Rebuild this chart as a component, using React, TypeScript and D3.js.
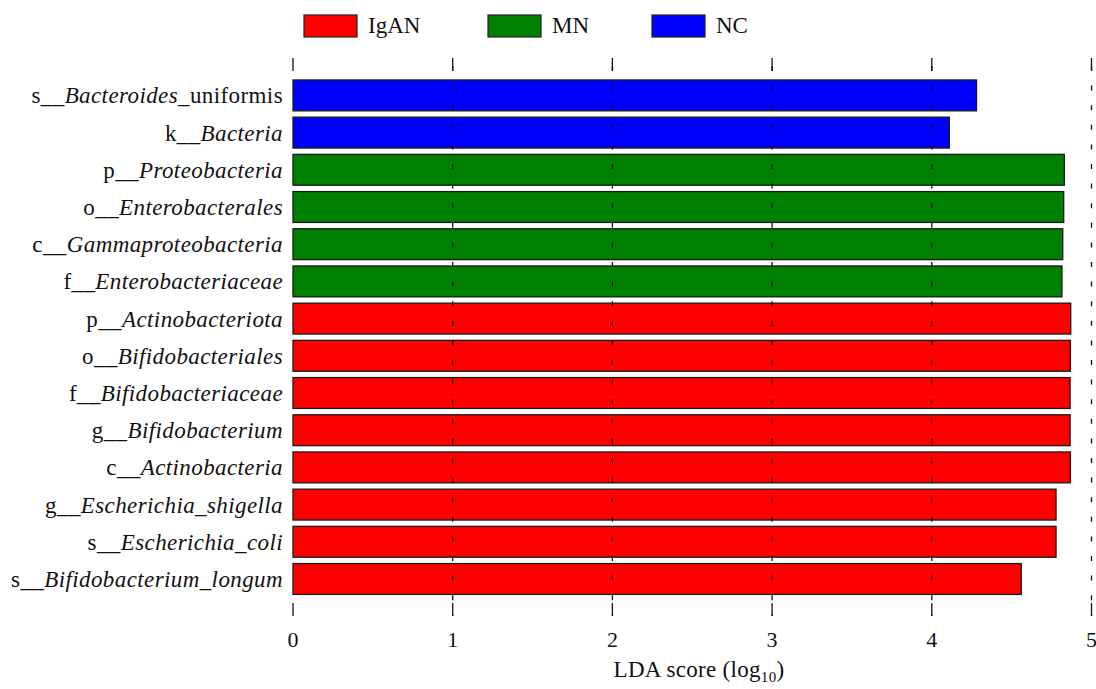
import React from "react";
import * as d3 from "d3";

// LEfSe LDA results: one bar per discriminative taxon
const taxonRank = ["s__", "k__", "p__", "o__", "c__", "f__", "p__", "o__", "f__", "g__", "c__", "g__", "s__", "s__"];
const taxonItalic = [
  "Bacteroides", "Bacteria", "Proteobacteria", "Enterobacterales", "Gammaproteobacteria",
  "Enterobacteriaceae", "Actinobacteriota", "Bifidobacteriales", "Bifidobacteriaceae",
  "Bifidobacterium", "Actinobacteria", "Escherichia_shigella", "Escherichia_coli",
  "Bifidobacterium_longum",
];
const taxonPlain = ["_uniformis", "", "", "", "", "", "", "", "", "", "", "", "", ""];
const taxonGroup = ["NC", "NC", "MN", "MN", "MN", "MN", "IgAN", "IgAN", "IgAN", "IgAN", "IgAN", "IgAN", "IgAN", "IgAN"];
const ldaScore = [4.28, 4.11, 4.83, 4.826, 4.82, 4.815, 4.87, 4.868, 4.866, 4.866, 4.868, 4.778, 4.778, 4.56];

const groups = ["IgAN", "MN", "NC"];
const groupColors = ["#ff0000", "#008000", "#0000ff"];
const xTicks = [0, 1, 2, 3, 4, 5];

const W = 1096;
const H = 689;
const FONT = "'Liberation Serif', 'Times New Roman', serif";

export default function App() {
  const keys = taxonItalic.map((_, i) => String(i));
  const x = d3.scaleLinear().domain([0, 5]).range([293, 1091.5]);
  const y = d3.scaleBand<string>().domain(keys).range([76.8, 597.6]).paddingInner(0.17).paddingOuter(0.085);
  const color = d3.scaleOrdinal<string, string>().domain(groups).range(groupColors);

  const gridTop = 66;
  const gridBottom = 616;

  return (
    <svg width={W} height={H} style={{ position: "absolute", left: 0, top: 0, background: "#fff" }} fontFamily={FONT}>
      {/* legend */}
      {groups.map((g, i) => {
        const lx = [304, 488, 652][i];
        return (
          <g key={g}>
            <rect x={lx} y={15} width={53} height={22} fill={color(g)} stroke="#222" strokeWidth={1.2} />
            <text x={lx + 64} y={33} fontSize={23} fill="#111">{g}</text>
          </g>
        );
      })}

      {/* bars */}
      {keys.map((k, i) => (
        <rect
          key={k}
          x={x(0)}
          y={y(k)}
          width={x(ldaScore[i]) - x(0)}
          height={y.bandwidth()}
          fill={color(taxonGroup[i])}
          stroke="#1a1a1a"
          strokeWidth={1.3}
        />
      ))}

      {/* dashed grid over bars, with solid ticks at both ends */}
      {xTicks.map((t) => (
        <g key={t} stroke="#111" strokeWidth={1.3}>
          {t > 0 && (
            <line x1={x(t)} x2={x(t)} y1={gridTop} y2={gridBottom} strokeDasharray="5,14.6" />
          )}
          <line x1={x(t)} x2={x(t)} y1={58} y2={71} />
          <line x1={x(t)} x2={x(t)} y1={603} y2={616} />
        </g>
      ))}

      {/* tick labels */}
      {xTicks.map((t) => (
        <text key={t} x={x(t)} y={647} textAnchor="middle" fontSize={22} fill="#111">{t}</text>
      ))}

      {/* taxon labels */}
      {keys.map((k, i) => (
        <text
          key={k}
          x={283}
          y={(y(k) as number) + y.bandwidth() / 2}
          dy="0.35em"
          textAnchor="end"
          fontSize={23}
          letterSpacing={0.4}
          fill="#111"
        >
          <tspan>{taxonRank[i]}</tspan>
          <tspan fontStyle="italic">{taxonItalic[i]}</tspan>
          {taxonPlain[i] && <tspan>{taxonPlain[i]}</tspan>}
        </text>
      ))}

      {/* axis title */}
      <text x={699} y={677} textAnchor="middle" fontSize={23} letterSpacing={0.3} fill="#111">
        <tspan>LDA score (log</tspan>
        <tspan fontSize={15} dy={5}>10</tspan>
        <tspan dy={-5}>)</tspan>
      </text>
    </svg>
  );
}
